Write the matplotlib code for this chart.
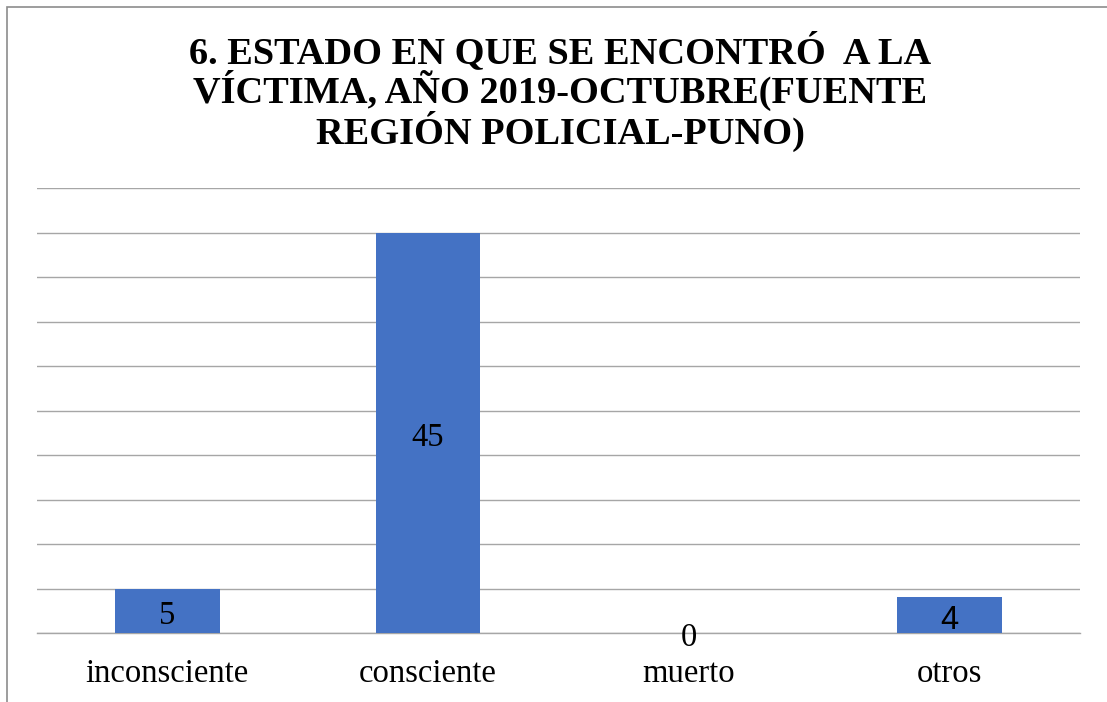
import matplotlib
matplotlib.use("Agg")
import matplotlib.pyplot as plt
from matplotlib.patches import Rectangle
from matplotlib.transforms import offset_copy

categories = ["inconsciente", "consciente", "muerto", "otros"]
values = [5, 45, 0, 4]
title = "6. ESTADO EN QUE SE ENCONTRÓ  A LA\nVÍCTIMA, AÑO 2019-OCTUBRE(FUENTE\nREGIÓN POLICIAL-PUNO)"

W, H = 1107, 702
fig = plt.figure(figsize=(W/100, H/100), dpi=100)
ax = fig.add_axes([37/W, 1-633/H, (1080-37)/W, (633-188)/H])

x = list(range(len(categories)))
bars = ax.bar(x, values, width=0.4, color="#4472C4", zorder=3)
ax.set_xlim(-0.5, len(categories)-0.5)
ax.set_ylim(0, 50)
ax.set_yticks(range(0, 51, 5))
ax.yaxis.grid(True, color="#a6a6a6", linewidth=1.0, zorder=0)
ax.tick_params(axis="y", left=False, labelleft=False)
ax.tick_params(axis="x", bottom=False, pad=15)
ax.set_xticks(x)
ax.set_xticklabels(categories, fontsize=23.5, family="Liberation Serif")
for s in ["top", "right", "left"]:
    ax.spines[s].set_visible(False)
ax.spines["bottom"].set_color("#a6a6a6")
ax.spines["bottom"].set_linewidth(1.0)

tr = offset_copy(ax.transData, fig=fig, x=0, y=-5, units="dots")
for xi, v in zip(x, values):
    fam = "Liberation Sans" if v == 4 else "Liberation Serif"
    ax.text(xi, v/2, str(v), ha="center", va="center", fontsize=23.5, family=fam,
            zorder=4, transform=tr)

fig.text(560/W, 1-92/H, title, ha="center", va="center", fontsize=27.6,
         fontweight="bold", family="Liberation Serif", linespacing=0.98)

fig.patches.append(Rectangle((7/W, -0.1), 1.2, 1-7/H+0.1, transform=fig.transFigure,
                             fill=False, edgecolor="#8c8c8c", linewidth=1.2))

fig.savefig("out.png", dpi=100)
